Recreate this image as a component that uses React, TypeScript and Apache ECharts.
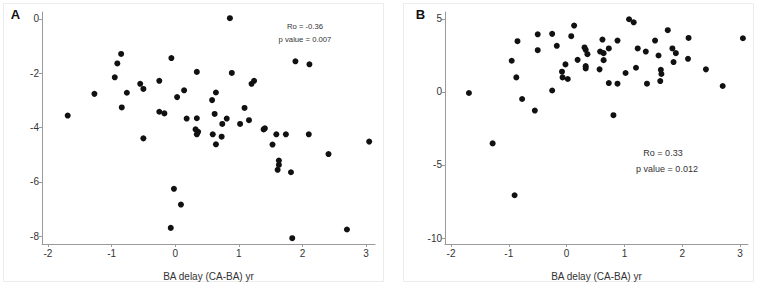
import React, { useEffect, useRef } from "react";
import * as echarts from "echarts";

// Panel A: BA delay (yr) vs outcome
const panelAX = [0.86, -0.85, -0.91, -0.95, -1.27, -1.69, -0.84, -0.76, -0.55, -0.5, -0.5, -0.25, -0.06, -0.25, -0.17, 0.03, 0.14, 0.18, 0.34, 0.34, 0.32, 0.36, 0.34, 0.59, 0.73, 0.58, 0.64, 0.62, 0.74, 0.81, 0.89, 1.02, 1.09, 1.16, 1.2, 1.24, 1.39, 1.41, 1.59, 1.74, 1.89, 2.11, 2.1, 3.05, 0.64, 1.53, 2.41, 1.63, 1.63, 1.61, 1.82, -0.02, 0.09, -0.07, 2.7, 1.84];
const panelAY = [0.03, -1.29, -1.64, -2.15, -2.76, -3.56, -3.26, -2.72, -2.39, -2.58, -4.4, -2.28, -1.44, -3.42, -3.48, -2.88, -2.63, -3.67, -1.95, -3.66, -4.07, -4.16, -4.25, -4.25, -4.34, -2.99, -2.71, -3.5, -3.87, -3.67, -1.99, -3.87, -3.28, -3.73, -2.39, -2.28, -4.07, -4.03, -4.25, -4.25, -1.56, -1.67, -4.25, -4.52, -4.62, -4.63, -4.98, -5.22, -5.38, -5.56, -5.65, -6.26, -6.84, -7.7, -7.76, -8.08];

// Panel B
const panelBX = [-1.69, -0.95, -0.85, -0.87, -0.77, -0.55, -0.5, -0.5, -0.25, -0.25, -0.17, -0.08, -0.07, -0.02, 0.02, 0.08, 0.13, 0.19, 0.31, 0.33, 0.36, 0.33, 0.33, 0.57, 0.58, 0.62, 0.64, 0.64, 0.73, 0.73, 0.81, 0.88, 0.88, 1.02, 1.08, 1.16, 1.2, 1.23, 1.37, 1.39, 1.53, 1.59, 1.62, 1.63, 1.64, 1.75, 1.83, 1.85, 1.89, 2.11, 2.1, 2.41, 2.7, 3.05, -1.28, -0.9];
const panelBY = [-0.07, 2.14, 3.48, 1.0, -0.48, -1.27, 3.95, 2.86, 3.98, 0.1, 3.16, 1.39, 1.0, 1.89, 0.89, 3.82, 4.55, 2.2, 3.05, 2.89, 2.59, 1.77, 1.61, 1.55, 2.77, 3.59, 2.66, 2.18, 2.98, 0.61, -1.59, 3.52, 0.57, 1.3, 4.98, 4.77, 1.66, 2.98, 2.77, 0.57, 3.52, 2.5, 0.75, 1.52, 1.23, 4.23, 2.98, 2.05, 2.66, 3.7, 2.27, 1.55, 0.41, 3.68, -3.52, -7.07];

const xTicks = [-2, -1, 0, 1, 2, 3];
const yTicksA = [-8, -6, -4, -2, 0];
const yTicksB = [-10, -5, 0, 5];

const xTitle = "BA delay (CA-BA) yr";
const statsA = ["Ro = -0.36", "p value = 0.007"];
const statsB = ["Ro = 0.33", "p value = 0.012"];

const FONT = "'Liberation Sans', Arial, Helvetica, sans-serif";
const AXIS_COLOR = "#9a9a9a";
const LABEL_COLOR = "#333333";

function xAxisOf(gridIndex: number, min: number, max: number) {
  return {
    type: "value",
    gridIndex,
    min,
    max,
    name: xTitle,
    nameLocation: "middle",
    nameGap: 27,
    nameTextStyle: { fontFamily: FONT, fontSize: 10, color: LABEL_COLOR },
    axisLine: { show: true, onZero: false, lineStyle: { color: AXIS_COLOR, width: 1 } },
    axisTick: { show: true, length: 3, customValues: xTicks, lineStyle: { color: AXIS_COLOR } },
    axisLabel: { customValues: xTicks, fontFamily: FONT, fontSize: 10, color: LABEL_COLOR, margin: 4 },
    splitLine: { show: false },
  };
}

function yAxisOf(gridIndex: number, min: number, max: number, ticks: number[]) {
  return {
    type: "value",
    gridIndex,
    min,
    max,
    axisLine: { show: true, onZero: false, lineStyle: { color: AXIS_COLOR, width: 1 } },
    axisTick: { show: true, length: 3, customValues: ticks, lineStyle: { color: AXIS_COLOR } },
    axisLabel: { customValues: ticks, fontFamily: FONT, fontSize: 10, color: LABEL_COLOR, margin: 3 },
    splitLine: { show: false },
  };
}

function statText(x: number, y: number, text: string, size: number) {
  return {
    type: "text",
    x,
    y,
    style: { text, fontFamily: FONT, fontSize: size, fill: LABEL_COLOR, align: "center", verticalAlign: "middle" },
  };
}

export default function App() {
  const ref = useRef<HTMLDivElement>(null);
  useEffect(() => {
    if (!ref.current) return;
    const chart = echarts.init(ref.current, undefined, { renderer: "svg" });
    const dataA = panelAX.map((x, i) => [x, panelAY[i]]);
    const dataB = panelBX.map((x, i) => [x, panelBY[i]]);
    chart.setOption({
      animation: false,
      backgroundColor: "#ffffff",
      grid: [
        { left: 42, top: 12, width: 333, height: 233 },
        { left: 445, top: 12, width: 303, height: 233 },
      ],
      xAxis: [xAxisOf(0, -2.094, 3.141), xAxisOf(1, -2.104, 3.138)],
      yAxis: [yAxisOf(0, -8.294, 0.257, yTicksA), yAxisOf(1, -10.41, 5.477, yTicksB)],
      series: [
        {
          type: "scatter",
          xAxisIndex: 0,
          yAxisIndex: 0,
          data: dataA,
          symbolSize: 6,
          itemStyle: { color: "#111111", opacity: 1 },
        },
        {
          type: "scatter",
          xAxisIndex: 1,
          yAxisIndex: 1,
          data: dataB,
          symbolSize: 6,
          itemStyle: { color: "#111111", opacity: 1 },
        },
      ],
      graphic: [
        { type: "rect", shape: { x: 3.5, y: 3.5, width: 380, height: 278 }, style: { fill: "none", stroke: "#ececec", lineWidth: 1 }, silent: true, z: -1 },
        { type: "rect", shape: { x: 403.5, y: 3.5, width: 350, height: 278 }, style: { fill: "none", stroke: "#ececec", lineWidth: 1 }, silent: true, z: -1 },
        { type: "text", x: 15.5, y: 14.5, style: { text: "A", fontFamily: FONT, fontSize: 13, fontWeight: "bold", fill: "#111111", align: "center", verticalAlign: "middle" } },
        { type: "text", x: 420.5, y: 14.5, style: { text: "B", fontFamily: FONT, fontSize: 13, fontWeight: "bold", fill: "#111111", align: "center", verticalAlign: "middle" } },
        statText(305, 26, statsA[0], 7.7),
        statText(305, 39.5, statsA[1], 7.7),
        statText(663, 153, statsB[0], 9),
        statText(667, 169, statsB[1], 9),
      ],
    });
    return () => chart.dispose();
  }, []);
  return (
    <div
      ref={ref}
      style={{ position: "fixed", left: 0, top: 0, width: 760, height: 286 }}
    />
  );
}
